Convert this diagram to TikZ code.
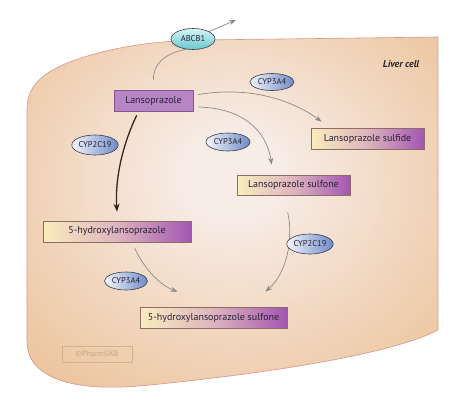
\documentclass[tikz,border=0pt]{standalone}
\usepackage{fontspec}
\setmainfont{PT Sans}
\usetikzlibrary{arrows.meta,calc,shapes.geometric}
\definecolor{cellin}{HTML}{F7ECE6}
\definecolor{cellout}{HTML}{E9B886}
\definecolor{cellborder}{HTML}{D8958A}
\definecolor{lanfill}{HTML}{B784C4}
\definecolor{lanborder}{HTML}{87578F}
\definecolor{boxY}{HTML}{FAEDBE}
\definecolor{boxM}{HTML}{DDB4BE}
\definecolor{boxP}{HTML}{A356B2}
\definecolor{boxborder}{HTML}{8C6E66}
\definecolor{cypL}{HTML}{F2F5FB}
\definecolor{cypR}{HTML}{6F8BC6}
\definecolor{abcT}{HTML}{D4F5F5}
\definecolor{abcB}{HTML}{6CC6CE}
\definecolor{ellborder}{HTML}{3A3C4C}
\definecolor{arrowgray}{HTML}{8E8985}
\definecolor{darkarrow}{HTML}{3A2418}
\definecolor{txt}{HTML}{2A2236}
\definecolor{wm}{HTML}{D2B48E}
\pgfdeclareradialshading{cellshade}{\pgfpoint{0bp}{6bp}}{color(0bp)=(cellin); color(6bp)=(cellin); color(44bp)=(cellout); color(75bp)=(cellout)}
\tikzset{
  box/.style={rectangle, draw=boxborder, line width=0.6pt, left color=boxY, right color=boxP, middle color=boxM, minimum height=21pt, inner sep=0pt, text=txt, font=\fontsize{10}{11}\selectfont},
  lanbox/.style={rectangle, draw=lanborder, line width=0.6pt, fill=lanfill, minimum height=21pt, inner sep=0pt, text=txt, font=\fontsize{10}{11}\selectfont},
  cyp/.style={ellipse, draw=ellborder, line width=0.6pt, left color=cypL, right color=cypR, minimum width=44pt, minimum height=18pt, inner sep=0pt, text=txt, font=\fontsize{8.5}{9}\selectfont},
  abc/.style={ellipse, draw=ellborder, line width=0.6pt, top color=abcT, bottom color=abcB, minimum width=44pt, minimum height=21pt, inner sep=0pt, text=txt, font=\fontsize{8.5}{9}\selectfont},
  conn/.style={draw=arrowgray, line width=0.7pt, -{Stealth[length=7pt,width=5pt]}},
  plain/.style={draw=arrowgray, line width=0.7pt},
  thick/.style={draw=darkarrow, line width=1.3pt, -{Stealth[length=8pt,width=6pt]}}
}
\begin{document}
\begin{tikzpicture}[x=1pt,y=-1pt]
\useasboundingbox (0,0) rectangle (450,408);
% cell
\path[shading=cellshade] (27,110) .. controls (27,86) and (42,72) .. (75,60) .. controls (110,48) and (150,41) .. (200,40) -- (438,37) -- (438,330) .. controls (400,350) and (300,370) .. (150,385) .. controls (100,390) and (70,386) .. (50,376) .. controls (32,366) and (27,355) .. (27,340) -- cycle;
\draw[cellborder, line width=0.6pt] (27,110) .. controls (27,86) and (42,72) .. (75,60) .. controls (110,48) and (150,41) .. (200,40) -- (438,37) -- (438,330) .. controls (400,350) and (300,370) .. (150,385) .. controls (100,390) and (70,386) .. (50,376) .. controls (32,366) and (27,355) .. (27,340) -- cycle;
\node[font=\fontsize{10}{11}\selectfont\bfseries\itshape, text=black!85] (liver) at (401,64) {Liver cell};
\node[draw=wm, line width=0.7pt, minimum width=70pt, minimum height=16pt, inner sep=0pt, text=wm, font=\fontsize{8}{9}\selectfont\bfseries] (wmark) at (97,354) {©PharmGKB};
% nodes
\node[lanbox, minimum width=79pt] (lanso) at (153.5,100.5) {Lansoprazole};
\node[box, minimum width=113pt] (sulfide) at (367.5,138.5) {Lansoprazole sulfide};
\node[box, minimum width=113pt, minimum height=20pt] (sulfone) at (293.5,185) {Lansoprazole sulfone};
\node[box, minimum width=148pt] (oh) at (117,231.5) {5-hydroxylansoprazole};
\node[box, minimum width=147pt] (ohsulf) at (213.5,317.5) {5-hydroxylansoprazole sulfone};
\node[abc] (abcb) at (193,39) {ABCB1};
\coordinate (out) at (236,20);
% connectors
\draw[plain] ($(lanso.north)+(0,-10)$) .. controls (153,64) and (164,54) .. (abcb.235);
\draw[conn] (abcb.25) -- (out);
\draw[conn] ($(lanso.east)+(5,-6)$) .. controls (250,86) and (292,100) .. ($(sulfide.north west)+(11,-6)$);
\draw[conn] ($(lanso.east)+(5,6.5)$) .. controls (240,108) and (266,128) .. ($(sulfone.north west)+(35,-10)$);
\draw[thick] ($(lanso.south west)+(23,4)$) .. controls (121,148) and (115,182) .. ($(oh.north)+(0,-9)$);
\draw[conn] ($(sulfone.south west)+(51,17)$) .. controls (294,240) and (286,274) .. ($(ohsulf.north east)+(-22,-15)$);
\draw[conn] ($(oh.south west)+(92,6)$) .. controls (145,270) and (160,285) .. ($(ohsulf.north west)+(38,-15)$);
% enzymes
\node[cyp, minimum height=17pt] (c3a) at (272,82) {CYP3A4};
\node[cyp] (c3b) at (228,142) {CYP3A4};
\node[cyp, minimum width=45pt, minimum height=20pt] (c2a) at (95,145) {CYP2C19};
\node[cyp, minimum height=20pt] (c2b) at (310,244) {CYP2C19};
\node[cyp, minimum width=43pt] (c3c) at (126,281) {CYP3A4};
\end{tikzpicture}
\end{document}
